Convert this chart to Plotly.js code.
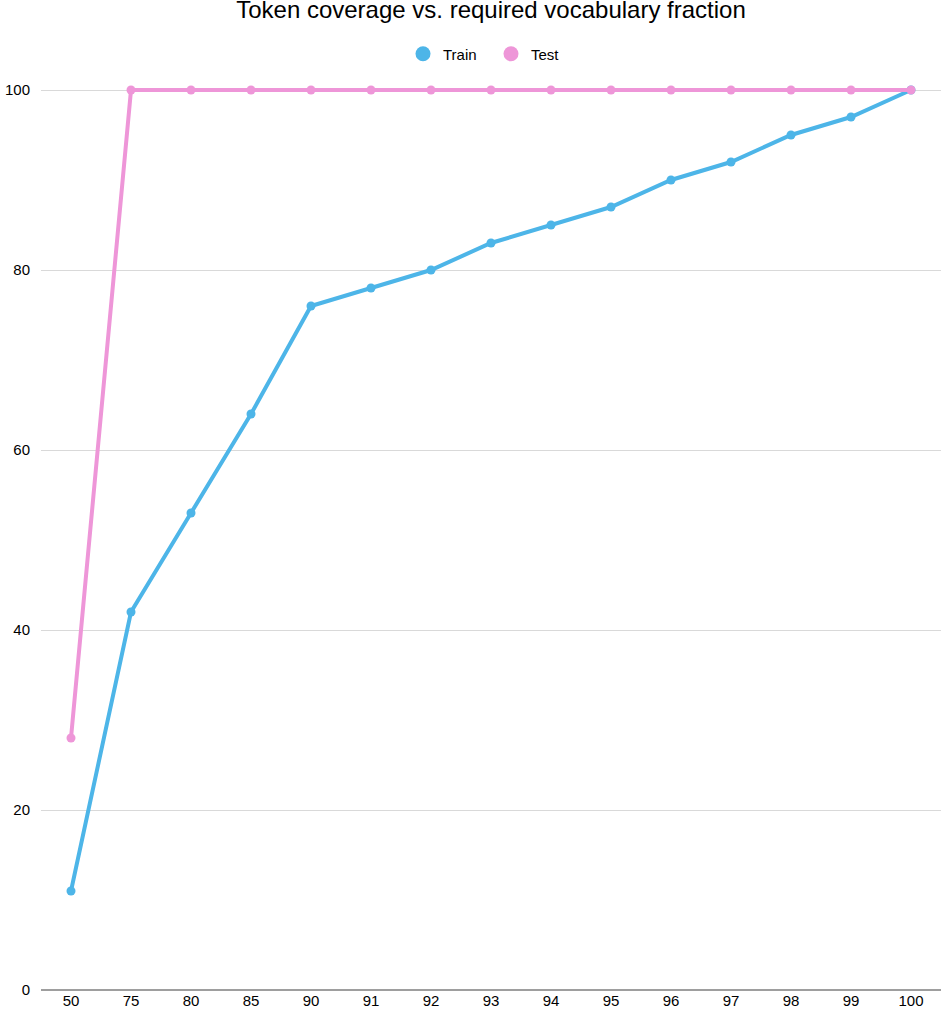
<!DOCTYPE html>
<html>
<head>
<meta charset="utf-8">
<script src="https://cdn.plot.ly/plotly-3.0.1.min.js"></script>
<style>html,body{margin:0;padding:0;background:#fff;}#chart{width:944px;height:1012px;}</style>
</head>
<body>
<div id="chart"></div>
<script>
const categories = ["50","75","80","85","90","91","92","93","94","95","96","97","98","99","100"];
const trainValues = [11,42,53,64,76,78,80,83,85,87,90,92,95,97,100];
const testValues = [28,100,100,100,100,100,100,100,100,100,100,100,100,100,100];
const seriesNames = ["Train","Test"];
const yTicks = [0,20,40,60,80,100];

const trainColor = "#4db5e8";
const testColor = "#ee96d8";

const traces = [
  {x: categories, y: trainValues, type: "scatter", mode: "lines+markers", name: seriesNames[0],
   line: {color: trainColor, width: 4}, marker: {color: trainColor, size: 9}, showlegend: false, cliponaxis: false},
  {x: categories, y: testValues, type: "scatter", mode: "lines+markers", name: seriesNames[1],
   line: {color: testColor, width: 4}, marker: {color: testColor, size: 9}, showlegend: false, cliponaxis: false},
  {x: [null], y: [null], type: "scatter", mode: "markers", name: seriesNames[0],
   marker: {color: trainColor, size: 15}, showlegend: true},
  {x: [null], y: [null], type: "scatter", mode: "markers", name: seriesNames[1],
   marker: {color: testColor, size: 15}, showlegend: true}
];

const layout = {
  width: 944, height: 1012,
  margin: {l: 41, r: 3, t: 81, b: 22},
  paper_bgcolor: "#fff", plot_bgcolor: "#fff",
  font: {family: "Liberation Sans, Arial, sans-serif", size: 15, color: "#000"},
  title: {text: "Token coverage vs. required vocabulary fraction", font: {size: 24, color: "#000"},
          x: 0.5, xanchor: "center", xref: "paper", y: 1 - 10 / 1012, yanchor: "middle", yref: "container"},
  showlegend: true,
  legend: {orientation: "h", x: 0.5, xanchor: "center", y: 1 - 54 / 1012, yanchor: "middle", yref: "container",
           font: {size: 15}, itemsizing: "trace", traceorder: "normal", entrywidth: 43},
  xaxis: {type: "category", categoryorder: "array", categoryarray: categories,
          range: [-0.5, categories.length - 0.5], showgrid: false, zeroline: false,
          showline: false, ticks: "", tickfont: {size: 15}, fixedrange: true},
  yaxis: {range: [0, 101], tickvals: yTicks, ticktext: yTicks.map(String),
          showgrid: true, gridcolor: "#d9d9d9", gridwidth: 1,
          zeroline: true, zerolinecolor: "#9e9e9e", zerolinewidth: 1.5,
          showline: false, ticks: "", ticklabelstandoff: 10, tickfont: {size: 15}, fixedrange: true}
};

Plotly.newPlot("chart", traces, layout, {displayModeBar: false, staticPlot: true});
</script>
</body>
</html>
